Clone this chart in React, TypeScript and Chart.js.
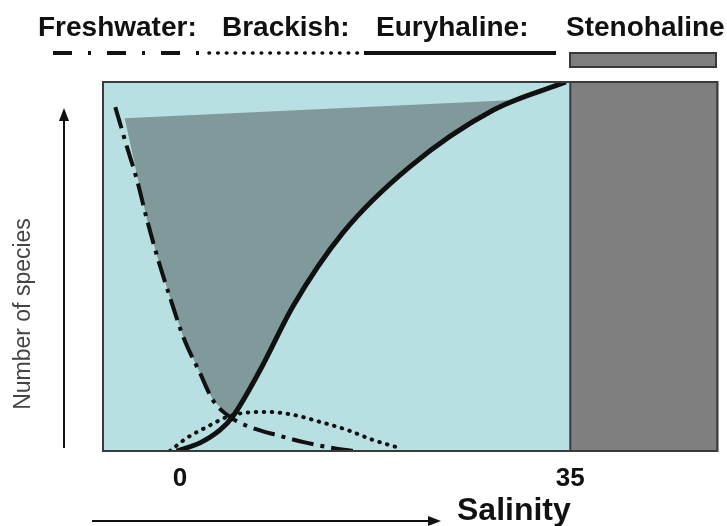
import React, { useEffect, useRef } from "react";
import { Chart, registerables } from "chart.js";

Chart.register(...registerables);

// ---- data (salinity on x, relative number of species 0-100 on y) ----
const xTickValues = [0, 35];
const xMin = -6.9;
const xMax = 48.2;
const yMin = 0;
const yMax = 100;

const euryhalineX = [-0.3, 1.8, 3.6, 4.7, 7.2, 10.15, 14.6, 20.6, 28.1, 34.6];
const euryhalineY = [0, 2.2, 5.7, 9.2, 22.0, 39.3, 59.1, 77.0, 92.4, 100];

const freshwaterX = [-5.8, -4.75, -3.85, -2.95, -1.95, -0.9, 0.3, 1.8, 2.95, 4.5, 6.3, 8.7, 11.4, 13.7, 15.5];
const freshwaterY = [93.2, 82.4, 73.4, 62.6, 51.8, 41.7, 30.9, 21.1, 13.8, 9.2, 6.5, 4.3, 2.2, 0.8, 0];

const brackishX = [-0.9, 0.6, 2.4, 4.2, 5.65, 7.8, 10.15, 12.55, 15.0, 17.3, 19.7];
const brackishY = [0, 3.5, 6.5, 9.2, 10.3, 10.6, 9.8, 7.9, 5.7, 3.0, 0.8];

const shadedX = [-4.95, -3.85, -2.95, -1.95, -0.9, 0.3, 1.8, 2.95, 4.5, 5.65, 7.2, 8.7, 10.15, 12.3, 14.6, 17.3, 20.6, 24.2, 28.1, 30.1];
const shadedY = [90.2, 74.8, 62.6, 51.8, 41.7, 30.9, 21.1, 13.8, 9.2, 14.6, 22.0, 30.9, 39.3, 49.0, 59.1, 68.0, 77.0, 85.1, 92.4, 95.1];

const stenohalineX = [35, 35, xMax, xMax];
const stenohalineY = [0, 100, 100, 0];

const headerLabels = ["Freshwater:", "Brackish:", "Euryhaline:", "Stenohaline"];
const xAxisLabel = "Salinity";
const yAxisLabel = "Number of species";

const zip = (xs: number[], ys: number[]) => xs.map((x, i) => ({ x, y: ys[i] }));

const PLOT_BG = "#b8dfe2";
const SHADE = "#80999b";
const STENO = "#7f7f7f";
const BORDER = "#3a3a3a";
const INK = "#111111";

const decorPlugin = {
  id: "decor",
  beforeDraw(chart: any) {
    const { ctx, chartArea: a } = chart;
    ctx.save();
    ctx.fillStyle = "#ffffff";
    ctx.fillRect(0, 0, chart.width, chart.height);
    ctx.fillStyle = PLOT_BG;
    ctx.fillRect(a.left, a.top, a.right - a.left, a.bottom - a.top);
    ctx.restore();
  },
  afterDraw(chart: any) {
    const { ctx, chartArea: a } = chart;
    ctx.save();
    // plot frame
    ctx.strokeStyle = BORDER;
    ctx.lineWidth = 2;
    ctx.strokeRect(a.left, a.top, a.right - a.left, a.bottom - a.top);

    // header texts
    ctx.fillStyle = INK;
    ctx.font = "bold 28px 'Liberation Sans', Arial, sans-serif";
    ctx.textBaseline = "alphabetic";
    ctx.textAlign = "left";
    const hx = [38, 222, 376, 566];
    headerLabels.forEach((t, i) => ctx.fillText(t, hx[i], 36));

    // header line samples
    const ly = 53;
    ctx.strokeStyle = INK;
    ctx.lineWidth = 4;
    ctx.lineCap = "butt";
    ctx.setLineDash([19, 16, 3, 16]);
    ctx.beginPath();
    ctx.moveTo(53, ly);
    ctx.lineTo(200, ly);
    ctx.stroke();

    ctx.lineWidth = 3.6;
    ctx.lineCap = "round";
    ctx.setLineDash([0.5, 8.2]);
    ctx.beginPath();
    ctx.moveTo(209, ly);
    ctx.lineTo(362, ly);
    ctx.stroke();

    ctx.setLineDash([]);
    ctx.lineCap = "butt";
    ctx.lineWidth = 4;
    ctx.beginPath();
    ctx.moveTo(364, ly);
    ctx.lineTo(556, ly);
    ctx.stroke();

    ctx.fillStyle = STENO;
    ctx.fillRect(570, 53, 146, 14);
    ctx.strokeStyle = BORDER;
    ctx.lineWidth = 2;
    ctx.strokeRect(570, 53, 146, 14);

    // x arrow
    ctx.strokeStyle = INK;
    ctx.fillStyle = INK;
    ctx.lineWidth = 2;
    ctx.beginPath();
    ctx.moveTo(92, 521);
    ctx.lineTo(430, 521);
    ctx.stroke();
    ctx.beginPath();
    ctx.moveTo(441, 521);
    ctx.lineTo(428, 516);
    ctx.lineTo(428, 526);
    ctx.closePath();
    ctx.fill();

    // y arrow
    ctx.beginPath();
    ctx.moveTo(64, 448);
    ctx.lineTo(64, 118);
    ctx.stroke();
    ctx.beginPath();
    ctx.moveTo(64, 108);
    ctx.lineTo(59, 121);
    ctx.lineTo(69, 121);
    ctx.closePath();
    ctx.fill();

    // axis titles
    ctx.font = "bold 32px 'Liberation Sans', Arial, sans-serif";
    ctx.fillStyle = INK;
    ctx.textAlign = "left";
    ctx.fillText(xAxisLabel, 457, 520);

    ctx.translate(24, 314);
    ctx.rotate(-Math.PI / 2);
    ctx.font = "23px 'Liberation Sans', Arial, sans-serif";
    ctx.fillStyle = "#444444";
    ctx.textAlign = "center";
    ctx.textBaseline = "middle";
    ctx.fillText(yAxisLabel, 0, 0);
    ctx.restore();
  },
};

export default function App() {
  const ref = useRef<HTMLCanvasElement | null>(null);
  useEffect(() => {
    if (!ref.current) return;
    const lineBase = { pointRadius: 0, pointHoverRadius: 0, fill: false };
    const chart = new Chart(ref.current, {
      type: "line",
      data: {
        datasets: [
          {
            ...lineBase,
            label: "Euryhaline",
            data: zip(euryhalineX, euryhalineY),
            borderColor: INK,
            borderWidth: 5,
            cubicInterpolationMode: "monotone",
            order: 1,
          },
          {
            ...lineBase,
            label: "Freshwater",
            data: zip(freshwaterX, freshwaterY),
            borderColor: INK,
            borderWidth: 4,
            borderDash: [22, 7, 4, 7],
            cubicInterpolationMode: "monotone",
            order: 2,
          },
          {
            ...lineBase,
            label: "Brackish",
            data: zip(brackishX, brackishY),
            borderColor: INK,
            borderWidth: 4,
            borderCapStyle: "round",
            borderDash: [0.5, 7.5],
            cubicInterpolationMode: "monotone",
            order: 3,
          },
          {
            ...lineBase,
            label: "Shaded",
            data: zip(shadedX, shadedY),
            borderWidth: 0,
            borderColor: "rgba(0,0,0,0)",
            backgroundColor: SHADE,
            fill: "shape",
            tension: 0,
            order: 4,
          },
          {
            ...lineBase,
            label: "Stenohaline",
            data: zip(stenohalineX, stenohalineY),
            borderWidth: 2,
            borderColor: BORDER,
            backgroundColor: STENO,
            fill: "shape",
            tension: 0,
            order: 5,
          },
        ],
      },
      options: {
        animation: false,
        responsive: false,
        events: [],
        layout: { padding: { left: 103, right: 9.5, top: 82, bottom: 0 } },
        plugins: {
          legend: { display: false },
          title: { display: false },
          tooltip: { enabled: false },
        },
        scales: {
          x: {
            type: "linear",
            min: xMin,
            max: xMax,
            grid: { display: false, drawTicks: false },
            border: { display: false },
            afterBuildTicks: (scale: any) => {
              scale.ticks = xTickValues.map((v) => ({ value: v }));
            },
            afterFit: (scale: any) => {
              scale.height = 75;
            },
            ticks: {
              autoSkip: false,
              maxRotation: 0,
              padding: 12,
              color: INK,
              font: { family: "'Liberation Sans', Arial, sans-serif", size: 26, weight: "bold" },
              callback: (v: any) => String(v),
            },
          },
          y: {
            type: "linear",
            display: false,
            min: yMin,
            max: yMax,
          },
        },
      },
      plugins: [decorPlugin],
    } as any);
    return () => chart.destroy();
  }, []);
  return (
    <div style={{ position: "absolute", left: 0, top: 0, width: 727, height: 526 }}>
      <canvas ref={ref} width={727} height={526} style={{ display: "block" }} />
    </div>
  );
}
